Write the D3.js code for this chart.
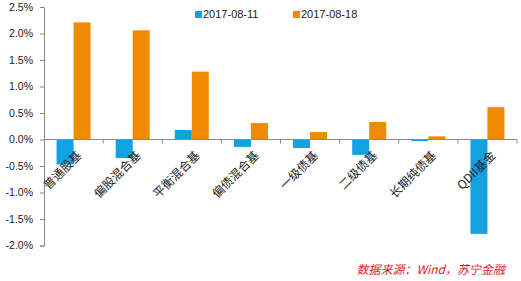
<!DOCTYPE html>
<html>
<head>
<meta charset="utf-8">
<script src="https://cdn.jsdelivr.net/npm/d3@7"></script>
<style>
  body { margin: 0; background: #fff; }
  svg { display: block; }
</style>
</head>
<body>
<div id="chart"></div>
<script>
// data (percent)
const categories = ["普通股基", "偏股混合基", "平衡混合基", "偏债混合基", "一级债基", "二级债基", "长期纯债基", "QDII基金"]
const seriesNames = ["2017-08-11", "2017-08-18"]
const week1 = [-0.47, -0.35, 0.18, -0.14, -0.16, -0.29, -0.03, -1.78]
const week2 = [2.21, 2.06, 1.28, 0.31, 0.14, 0.33, 0.06, 0.61]
const yTicks = [2.5, 2.0, 1.5, 1.0, 0.5, 0.0, -0.5, -1.0, -1.5, -2.0]
const colors = ["#12a2e2", "#ef8b00"]

const width = 521, height = 281
const svg = d3.select("#chart").append("svg")
  .attr("width", width)
  .attr("height", height)

const left = 44, right = 517
const x = d3.scaleBand().domain(categories).range([left, right])
const x1 = d3.scaleBand().domain(seriesNames).range([0, 34])
const y = d3.scaleLinear().domain([-2.0, 2.5]).range([245.5, 7])

const font = "'Liberation Sans', Arial, sans-serif"

// y axis
const yAxis = svg.append("g")
  .attr("transform", `translate(${left},0)`)
  .call(d3.axisLeft(y).tickValues(yTicks).tickSize(4).tickFormat(d => d.toFixed(1) + "%"))
yAxis.select(".domain").attr("stroke", "#898989")
yAxis.selectAll(".tick line").attr("stroke", "#898989")
yAxis.selectAll("text")
  .attr("x", -11)
  .style("font", "10.5px " + font)
  .attr("fill", "#222")

// bars
const rows = categories.map((c, i) => ({ cat: c, vals: [week1[i], week2[i]] }))
const groups = svg.append("g").selectAll("g")
  .data(rows)
  .join("g")
  .attr("transform", d => `translate(${x(d.cat) + (x.bandwidth() - 34) / 2},0)`)

groups.selectAll("rect")
  .data(d => d.vals.map((v, k) => ({ name: seriesNames[k], v: v, k: k })))
  .join("rect")
  .attr("x", d => x1(d.name))
  .attr("width", x1.bandwidth())
  .attr("y", d => y(Math.max(0, d.v)))
  .attr("height", d => Math.abs(y(d.v) - y(0)))
  .attr("fill", d => colors[d.k])

// x axis at zero
const xg = svg.append("g")
xg.append("line")
  .attr("x1", left).attr("x2", right)
  .attr("y1", y(0)).attr("y2", y(0))
  .attr("stroke", "#898989")
const bounds = categories.map(c => x(c) + x.bandwidth())
xg.selectAll(".tk")
  .data(bounds)
  .join("line")
  .attr("x1", d => d).attr("x2", d => d)
  .attr("y1", y(0)).attr("y2", y(0) + 4)
  .attr("stroke", "#898989")

// category labels, rotated
xg.selectAll(".lbl")
  .data(categories)
  .join("text")
  .attr("transform", d => `translate(${x(d) + x.bandwidth() / 2 + 2},${y(0) + 10}) rotate(-45)`)
  .attr("text-anchor", "end")
  .attr("dy", "0.8em")
  .style("font", "12px 'Noto Sans CJK SC', sans-serif")
  .attr("fill", "#222")
  .text(d => d)

// legend
const legend = svg.append("g")
const legX = [195, 293]
seriesNames.forEach((n, k) => {
  legend.append("rect")
    .attr("x", legX[k]).attr("y", 11)
    .attr("width", 7).attr("height", 7)
    .attr("fill", colors[k])
  legend.append("text")
    .attr("x", legX[k] + 8).attr("y", 18)
    .style("font", "11px " + font)
    .attr("fill", "#222")
    .text(n)
})

// source note
svg.append("text")
  .attr("x", 505).attr("y", 274)
  .attr("text-anchor", "end")
  .style("font", "italic 12px 'Noto Sans CJK SC', sans-serif")
  .attr("fill", "#e8151f")
  .text("数据来源：Wind，苏宁金融")
</script>
</body>
</html>
